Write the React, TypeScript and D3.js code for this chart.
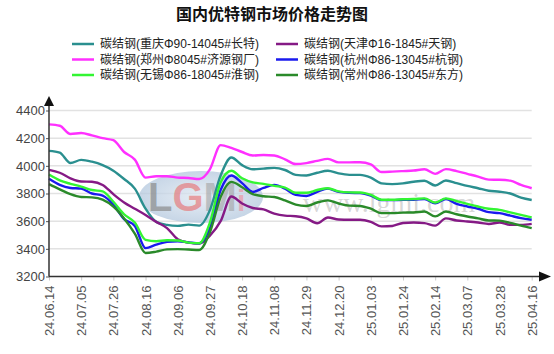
import { useEffect, useRef } from 'react';
import * as d3 from 'd3';

const title = '国内优特钢市场价格走势图';
const xLabels = ['24.06.14', '24.07.05', '24.07.26', '24.08.16', '24.09.06', '24.09.27', '24.10.18', '24.11.08',
  '24.11.29', '24.12.20', '25.01.03', '25.01.24', '25.02.14', '25.03.07', '25.03.28', '25.04.16'];
const labelStep = 3; // one label every 3 data points
const yTicks = [3200, 3400, 3600, 3800, 4000, 4200, 4400];

// 碳结钢 prices, weekly
const chongqing = [4108, 4095, 4020, 4043, 4030, 4005, 3965, 3905, 3835, 3690, 3595, 3573, 3566, 3575, 3568, 3680,
  3930, 4060, 4005, 3975, 3980, 3985, 3970, 3935, 3930, 3950, 3965, 3945, 3935, 3935, 3915, 3873, 3868, 3873, 3885,
  3892, 3858, 3894, 3875, 3855, 3838, 3820, 3813, 3800, 3770, 3753];
const tianjin = [3971, 3950, 3910, 3887, 3885, 3862, 3795, 3735, 3690, 3645, 3595, 3550, 3470, 3445, 3438, 3495,
  3600, 3778, 3728, 3695, 3685, 3655, 3640, 3636, 3620, 3585, 3627, 3612, 3610, 3610, 3595, 3562, 3565, 3587, 3590,
  3586, 3568, 3620, 3605, 3598, 3590, 3580, 3590, 3573, 3573, 3580];
const zhengzhou = [4300, 4290, 4230, 4237, 4220, 4200, 4185, 4100, 4045, 3915, 3925, 3925, 3915, 3912, 3905, 3975,
  4150, 4130, 4100, 4075, 4078, 4075, 4047, 4013, 4020, 4036, 4050, 4025, 4025, 4026, 4010, 3955, 3958, 3962, 3966,
  3975, 3942, 3976, 3962, 3942, 3922, 3900, 3899, 3893, 3862, 3838];
const hangzhou = [3906, 3862, 3840, 3835, 3800, 3785, 3720, 3615, 3565, 3405, 3430, 3450, 3455, 3447, 3440, 3550,
  3825, 3930, 3875, 3812, 3840, 3862, 3835, 3790, 3782, 3812, 3835, 3812, 3805, 3803, 3785, 3752, 3752, 3755, 3755,
  3760, 3730, 3760, 3725, 3706, 3690, 3665, 3658, 3640, 3622, 3610];
const wuxi = [3937, 3895, 3870, 3850, 3825, 3815, 3740, 3650, 3590, 3465, 3455, 3462, 3460, 3445, 3440, 3590,
  3880, 3965, 3910, 3880, 3870, 3855, 3843, 3805, 3805, 3825, 3838, 3815, 3808, 3807, 3790, 3755, 3755, 3758, 3760,
  3765, 3735, 3765, 3745, 3725, 3706, 3690, 3682, 3663, 3646, 3627];
const changzhou = [3868, 3830, 3795, 3775, 3772, 3755, 3705, 3620, 3510, 3370, 3380, 3396, 3398, 3395, 3392, 3520,
  3775, 3884, 3845, 3795, 3780, 3775, 3750, 3720, 3710, 3735, 3750, 3728, 3712, 3710, 3690, 3658, 3658, 3662, 3663,
  3670, 3635, 3670, 3650, 3634, 3620, 3605, 3604, 3588, 3568, 3550];

const seriesNames = ['碳结钢(重庆Φ90-14045#长特)', '碳结钢(天津Φ16-1845#天钢)', '碳结钢(郑州Φ8045#济源钢厂)',
  '碳结钢(杭州Φ86-13045#杭钢)', '碳结钢(无锡Φ86-18045#淮钢)', '碳结钢(常州Φ86-13045#东方)'];
const seriesValues = [chongqing, tianjin, zhengzhou, hangzhou, wuxi, changzhou];
const seriesColors = ['#2a8f8f', '#851a85', '#ff30ff', '#1a1aee', '#33f533', '#2a8a2a'];
const drawOrder = [0, 2, 1, 3, 4, 5];

const W = 554, H = 354;
const LATIN = '"Liberation Sans", Arial, sans-serif';
const CJK = '"Liberation Sans", "Noto Sans CJK SC", sans-serif';

export default function App() {
  const ref = useRef<SVGSVGElement>(null);

  useEffect(() => {
    if (!ref.current) return;
    const svg = d3.select(ref.current);
    svg.selectAll('*').remove();

    const n = chongqing.length;
    const x = d3.scaleLinear().domain([0, n - 1]).range([49, 531.7]);
    const y = d3.scaleLinear().domain([3200, 4400]).range([276.5, 110.5]);
    const x0 = x(0), x1 = x(n - 1);

    svg.append('rect').attr('width', W).attr('height', H).attr('fill', '#fff');

    // Title
    svg.append('text').attr('x', 272).attr('y', 20).attr('text-anchor', 'middle')
      .attr('font-family', CJK).attr('font-size', 16).attr('font-weight', 'bold').attr('fill', '#111').text(title);

    // Legend, 2 columns
    seriesNames.forEach((name, i) => {
      const col = i % 2, row = Math.floor(i / 2);
      const lx = col === 0 ? 72 : 276, ly = 44 + row * 15.5;
      svg.append('line').attr('x1', lx).attr('x2', lx + 22).attr('y1', ly).attr('y2', ly)
        .attr('stroke', seriesColors[i]).attr('stroke-width', 2.5);
      svg.append('text').attr('x', lx + 28).attr('y', ly).attr('dominant-baseline', 'central')
        .attr('font-family', CJK).attr('font-size', 12).attr('fill', '#222').text(name);
    });

    // Grid
    yTicks.slice(1).forEach(v => {
      svg.append('line').attr('x1', x0).attr('x2', x1).attr('y1', y(v)).attr('y2', y(v))
        .attr('stroke', '#e2e2e2').attr('stroke-width', 1.5);
    });

    // Watermarks
    const defs = svg.append('defs');
    const eg = defs.append('radialGradient').attr('id', 'logoFill');
    eg.append('stop').attr('offset', '0%').attr('stop-color', '#dfe8f2');
    eg.append('stop').attr('offset', '100%').attr('stop-color', '#b4c8de');
    svg.append('ellipse').attr('cx', 201).attr('cy', 197).attr('rx', 62).attr('ry', 26)
      .attr('fill', 'url(#logoFill)').attr('opacity', 0.75);
    const logo = svg.append('text').attr('x', 148).attr('y', 211).attr('font-family', LATIN)
      .attr('font-size', 40).attr('font-weight', 'bold');
    logo.append('tspan').attr('fill', '#8a8a8a').attr('fill-opacity', 0.7).text('L');
    logo.append('tspan').attr('fill', '#e86a6a').attr('fill-opacity', 0.6).text('G');
    logo.append('tspan').attr('fill', '#9a9a9a').attr('fill-opacity', 0.55).text('M');
    logo.append('tspan').attr('fill', '#ee8a9a').attr('fill-opacity', 0.6).attr('font-size', 30).text('i');
    svg.append('text').attr('x', 389).attr('y', 212).attr('text-anchor', 'middle')
      .attr('font-family', '"Liberation Serif", "Times New Roman", serif').attr('font-size', 28)
      .attr('fill', '#999').attr('fill-opacity', 0.4).text('www.lgmi.com');

    // Y axis labels
    const yAxis = d3.axisLeft(y).tickValues(yTicks).tickSize(3).tickPadding(1).tickFormat(d => String(d));
    const gy = svg.append('g').attr('transform', `translate(${x0},0)`).call(yAxis);
    gy.select('.domain').remove();
    gy.selectAll('line').attr('stroke', '#555');
    gy.selectAll('text').attr('font-family', LATIN).attr('font-size', 13).attr('fill', '#444');

    // X axis labels
    const xAxis = d3.axisBottom(x).tickValues(xLabels.map((_, k) => k * labelStep)).tickSize(4)
      .tickFormat((_, k) => xLabels[k]);
    const gx = svg.append('g').attr('transform', `translate(0,${y(3200)})`).call(xAxis);
    gx.select('.domain').remove();
    gx.selectAll('line').attr('stroke', '#ccc');
    gx.selectAll('text').attr('font-family', LATIN).attr('font-size', 13).attr('fill', '#555')
      .attr('text-anchor', 'end').attr('dy', null).attr('y', null)
      .attr('dominant-baseline', 'central')
      .attr('transform', 'translate(0,9) rotate(-90)');

    // Lines
    const line = d3.line<number>().x((_, i) => x(i)).y(d => y(d)).curve(d3.curveMonotoneX);
    drawOrder.forEach(i => {
      svg.append('path').datum(seriesValues[i]).attr('d', line).attr('fill', 'none')
        .attr('stroke', seriesColors[i]).attr('stroke-width', 2.4).attr('stroke-linejoin', 'round');
    });

    // Axis lines with arrows
    const yb = y(3200);
    svg.append('line').attr('x1', x0).attr('x2', x0).attr('y1', yb).attr('y2', 104)
      .attr('stroke', '#333').attr('stroke-width', 1.5);
    svg.append('path').attr('d', `M${x0},96L${x0 - 5},106L${x0 + 5},106Z`).attr('fill', '#111');
    svg.append('line').attr('x1', x0).attr('x2', 542).attr('y1', yb).attr('y2', yb)
      .attr('stroke', '#333').attr('stroke-width', 1.5);
    svg.append('path').attr('d', `M551,${yb}L539,${yb - 5}L539,${yb + 5}Z`).attr('fill', '#111');
  }, []);

  return (
    <svg ref={ref} width={W} height={H} viewBox={`0 0 ${W} ${H}`}
      style={{ position: 'absolute', left: 0, top: 0, display: 'block' }} />
  );
}
